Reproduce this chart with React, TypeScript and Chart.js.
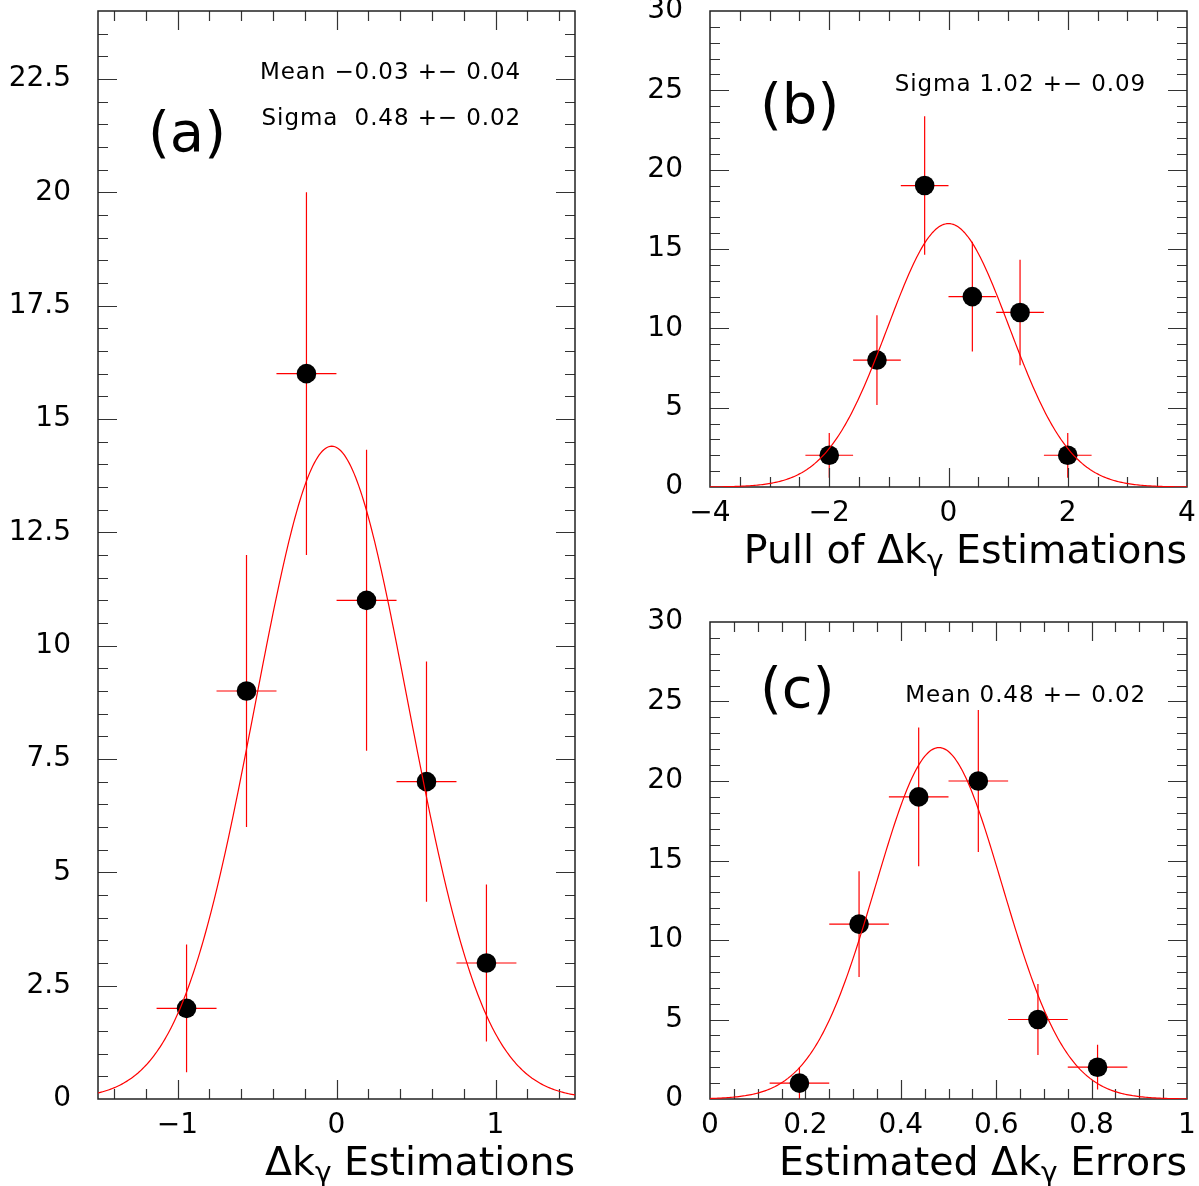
import React, { useEffect, useRef } from 'react';
import { Chart, registerables } from 'chart.js';

Chart.register(...registerables);

// ---------------- Panel (a): Δkγ Estimations ----------------
const A_BIN_CENTERS = [-0.943, -0.566, -0.189, 0.189, 0.566, 0.943];
const A_COUNTS = [2, 9, 16, 11, 7, 3];
const A_ERRORS = [1.41, 3.0, 4.0, 3.32, 2.65, 1.73];
const A_BIN_HALF_WIDTH = 0.1886;
const A_FIT_AMPLITUDE = 14.4;
const A_FIT_MEAN = -0.03;
const A_FIT_SIGMA = 0.48;
const A_X_TICKS = [-1, 0, 1];
const A_Y_TICKS = [0, 2.5, 5, 7.5, 10, 12.5, 15, 17.5, 20, 22.5];
const A_STATS = ['Mean \u22120.03 +\u2212 0.04', 'Sigma  0.48 +\u2212 0.02'];
const A_TAG = '(a)';
const A_TITLE = ['\u0394k', '\u03b3', ' Estimations'];

// ---------------- Panel (b): Pull of Δkγ Estimations ----------------
const B_BIN_CENTERS = [-2, -1.2, -0.4, 0.4, 1.2, 2];
const B_COUNTS = [2, 8, 19, 12, 11, 2];
const B_ERRORS = [1.41, 2.83, 4.36, 3.46, 3.32, 1.41];
const B_BIN_HALF_WIDTH = 0.4;
const B_FIT_AMPLITUDE = 16.6;
const B_FIT_MEAN = 0.0;
const B_FIT_SIGMA = 1.02;
const B_X_TICKS = [-4, -2, 0, 2, 4];
const B_Y_TICKS = [0, 5, 10, 15, 20, 25, 30];
const B_STATS = ['Sigma 1.02 +\u2212 0.09'];
const B_TAG = '(b)';
const B_TITLE = ['Pull of \u0394k', '\u03b3', ' Estimations'];

// ---------------- Panel (c): Estimated Δkγ Errors ----------------
const C_BIN_CENTERS = [0.1875, 0.3125, 0.4375, 0.5625, 0.6875, 0.8125];
const C_COUNTS = [1, 11, 19, 20, 5, 2];
const C_ERRORS = [1.0, 3.32, 4.36, 4.47, 2.24, 1.41];
const C_BIN_HALF_WIDTH = 0.0625;
const C_FIT_AMPLITUDE = 22.1;
const C_FIT_MEAN = 0.48;
const C_FIT_SIGMA = 0.133;
const C_X_TICKS = [0, 0.2, 0.4, 0.6, 0.8, 1];
const C_Y_TICKS = [0, 5, 10, 15, 20, 25, 30];
const C_STATS = ['Mean 0.48 +\u2212 0.02'];
const C_TAG = '(c)';
const C_TITLE = ['Estimated \u0394k', '\u03b3', ' Errors'];

const FONT = '"DejaVu Sans", sans-serif';
const RED = '#ff0000';

type PanelCfg = {
  left: number; top: number; w: number; h: number;
  area: { l: number; t: number; r: number; b: number };
  xMin: number; xMax: number; yMin: number; yMax: number;
  xTicks: number[]; yTicks: number[]; xMinor: number; yMinor: number;
  centers: number[]; counts: number[]; errors: number[]; half: number;
  fit: { amp: number; mean: number; sigma: number };
  stats: string[]; statsRight: number; statsBaselines: number[];
  tag: string; tagX: number; tagBaseline: number;
  title: string[]; titleBaseline: number;
};

const PANELS: PanelCfg[] = [
  {
    left: 0, top: 0, w: 600, h: 1186,
    area: { l: 98, t: 11, r: 575, b: 1099 },
    xMin: -1.5, xMax: 1.5, yMin: 0, yMax: 24,
    xTicks: A_X_TICKS, yTicks: A_Y_TICKS, xMinor: 0.2, yMinor: 0.5,
    centers: A_BIN_CENTERS, counts: A_COUNTS, errors: A_ERRORS, half: A_BIN_HALF_WIDTH,
    fit: { amp: A_FIT_AMPLITUDE, mean: A_FIT_MEAN, sigma: A_FIT_SIGMA },
    stats: A_STATS, statsRight: 521, statsBaselines: [79, 125],
    tag: A_TAG, tagX: 148, tagBaseline: 151,
    title: A_TITLE, titleBaseline: 1175,
  },
  {
    left: 600, top: 0, w: 599, h: 600,
    area: { l: 110, t: 11, r: 587, b: 487 },
    xMin: -4, xMax: 4, yMin: 0, yMax: 30,
    xTicks: B_X_TICKS, yTicks: B_Y_TICKS, xMinor: 0.5, yMinor: 1,
    centers: B_BIN_CENTERS, counts: B_COUNTS, errors: B_ERRORS, half: B_BIN_HALF_WIDTH,
    fit: { amp: B_FIT_AMPLITUDE, mean: B_FIT_MEAN, sigma: B_FIT_SIGMA },
    stats: B_STATS, statsRight: 546, statsBaselines: [91],
    tag: B_TAG, tagX: 160, tagBaseline: 123,
    title: B_TITLE, titleBaseline: 563,
  },
  {
    left: 600, top: 600, w: 599, h: 586,
    area: { l: 110, t: 22, r: 587, b: 499 },
    xMin: 0, xMax: 1, yMin: 0, yMax: 30,
    xTicks: C_X_TICKS, yTicks: C_Y_TICKS, xMinor: 0.05, yMinor: 1,
    centers: C_BIN_CENTERS, counts: C_COUNTS, errors: C_ERRORS, half: C_BIN_HALF_WIDTH,
    fit: { amp: C_FIT_AMPLITUDE, mean: C_FIT_MEAN, sigma: C_FIT_SIGMA },
    stats: C_STATS, statsRight: 546, statsBaselines: [102],
    tag: C_TAG, tagX: 160, tagBaseline: 107,
    title: C_TITLE, titleBaseline: 575,
  },
];

function fitCurve(cfg: PanelCfg) {
  const n = 300;
  const pts: { x: number; y: number }[] = [];
  for (let i = 0; i <= n; i++) {
    const x = cfg.xMin + ((cfg.xMax - cfg.xMin) * i) / n;
    const z = (x - cfg.fit.mean) / cfg.fit.sigma;
    pts.push({ x, y: cfg.fit.amp * Math.exp(-0.5 * z * z) });
  }
  return pts;
}

function fmt(v: number) {
  const r = Math.round(v * 1000) / 1000;
  return r < 0 ? '\u2212' + String(Math.abs(r)) : String(r);
}

function minorValues(min: number, max: number, step: number, majors: number[]) {
  const out: number[] = [];
  const k0 = Math.ceil(min / step - 1e-6);
  const k1 = Math.floor(max / step + 1e-6);
  for (let k = k0; k <= k1; k++) {
    const v = k * step;
    if (Math.abs(v - min) < 1e-6 || Math.abs(v - max) < 1e-6) continue;
    if (majors.some((m) => Math.abs(m - v) < 1e-6)) continue;
    out.push(v);
  }
  return out;
}

function makePlugin(cfg: PanelCfg) {
  return {
    id: 'pawFrame',
    beforeDatasetsDraw(chart: any) {
      const { ctx, chartArea: a, scales } = chart;
      const xs = scales.x;
      const ys = scales.y;
      ctx.save();
      // error bars
      ctx.strokeStyle = RED;
      ctx.lineWidth = 1.2;
      cfg.centers.forEach((c, i) => {
        const px = xs.getPixelForValue(c);
        const py = ys.getPixelForValue(cfg.counts[i]);
        ctx.beginPath();
        ctx.moveTo(xs.getPixelForValue(c - cfg.half), py);
        ctx.lineTo(xs.getPixelForValue(c + cfg.half), py);
        ctx.moveTo(px, ys.getPixelForValue(Math.max(cfg.yMin, cfg.counts[i] - cfg.errors[i])));
        ctx.lineTo(px, ys.getPixelForValue(cfg.counts[i] + cfg.errors[i]));
        ctx.stroke();
      });
      // ticks (inward, on all four sides)
      ctx.strokeStyle = '#333';
      ctx.lineWidth = 1.2;
      const MAJ = 19;
      const MIN = 10;
      const xMaj = cfg.xTicks.filter((v) => v > cfg.xMin + 1e-6 && v < cfg.xMax - 1e-6);
      const yMaj = cfg.yTicks.filter((v) => v > cfg.yMin + 1e-6 && v < cfg.yMax - 1e-6);
      const xMin = minorValues(cfg.xMin, cfg.xMax, cfg.xMinor, cfg.xTicks);
      const yMin = minorValues(cfg.yMin, cfg.yMax, cfg.yMinor, cfg.yTicks);
      ctx.beginPath();
      const xt = (v: number, len: number) => {
        const p = Math.round(xs.getPixelForValue(v)) + 0.5;
        ctx.moveTo(p, a.bottom);
        ctx.lineTo(p, a.bottom - len);
        ctx.moveTo(p, a.top);
        ctx.lineTo(p, a.top + len);
      };
      const yt = (v: number, len: number) => {
        const p = Math.round(ys.getPixelForValue(v)) + 0.5;
        ctx.moveTo(a.left, p);
        ctx.lineTo(a.left + len, p);
        ctx.moveTo(a.right, p);
        ctx.lineTo(a.right - len, p);
      };
      xMaj.forEach((v) => xt(v, MAJ));
      xMin.forEach((v) => xt(v, MIN));
      yMaj.forEach((v) => yt(v, MAJ));
      yMin.forEach((v) => yt(v, MIN));
      ctx.stroke();
      // frame
      ctx.strokeStyle = '#222';
      ctx.lineWidth = 1.5;
      ctx.strokeRect(a.left, a.top, a.right - a.left, a.bottom - a.top);
      ctx.restore();
    },
    afterDraw(chart: any) {
      const { ctx, chartArea: a } = chart;
      ctx.save();
      ctx.fillStyle = '#000';
      // stats box text
      ctx.font = `23px ${FONT}`;
      try { (ctx as any).letterSpacing = '0.9px'; } catch (e) { /* ignore */ }
      ctx.textAlign = 'right';
      ctx.textBaseline = 'alphabetic';
      cfg.stats.forEach((s, i) => ctx.fillText(s, cfg.statsRight, cfg.statsBaselines[i]));
      try { (ctx as any).letterSpacing = '0px'; } catch (e) { /* ignore */ }
      // panel tag
      ctx.textAlign = 'left';
      ctx.font = `56px ${FONT}`;
      ctx.fillText(cfg.tag, cfg.tagX, cfg.tagBaseline);
      // axis title with subscript gamma, right aligned to frame
      const big = `39.5px ${FONT}`;
      const small = `28px ${FONT}`;
      ctx.font = big;
      const w1 = ctx.measureText(cfg.title[0]).width;
      const w3 = ctx.measureText(cfg.title[2]).width;
      ctx.font = small;
      const w2 = ctx.measureText(cfg.title[1]).width;
      let x = a.right - (w1 + w2 + w3);
      ctx.font = big;
      ctx.fillText(cfg.title[0], x, cfg.titleBaseline);
      x += w1;
      ctx.font = small;
      ctx.fillText(cfg.title[1], x, cfg.titleBaseline + 7);
      x += w2;
      ctx.font = big;
      ctx.fillText(cfg.title[2], x, cfg.titleBaseline);
      ctx.restore();
    },
  };
}

function Panel({ cfg }: { cfg: PanelCfg }) {
  const ref = useRef<HTMLCanvasElement>(null);
  useEffect(() => {
    const canvas = ref.current;
    if (!canvas) return;
    const points = cfg.centers.map((c, i) => ({ x: c, y: cfg.counts[i] }));
    const chart = new Chart(canvas, {
      type: 'scatter',
      data: {
        datasets: [
          {
            data: fitCurve(cfg),
            showLine: true,
            pointRadius: 0,
            borderColor: RED,
            borderWidth: 1.2,
            fill: false,
            tension: 0,
          } as any,
          {
            data: points,
            showLine: false,
            pointRadius: 9.8,
            pointBackgroundColor: '#000',
            pointBorderColor: '#000',
            pointBorderWidth: 0,
          } as any,
        ],
      },
      options: {
        animation: false,
        responsive: false,
        maintainAspectRatio: false,
        events: [],
        layout: {
          padding: { left: 0, top: cfg.area.t, right: cfg.w - cfg.area.r, bottom: 0 },
        },
        plugins: { legend: { display: false }, tooltip: { enabled: false }, title: { display: false } },
        scales: {
          x: {
            type: 'linear',
            min: cfg.xMin,
            max: cfg.xMax,
            afterBuildTicks: (s: any) => { s.ticks = cfg.xTicks.map((v) => ({ value: v })); },
            afterFit: (s: any) => {
              s.height = cfg.h - cfg.area.b;
              s.paddingLeft = 0; s.paddingRight = 0; s.paddingTop = 0; s.paddingBottom = 0;
            },
            ticks: {
              callback: (v: any) => fmt(Number(v)),
              font: { family: FONT, size: 28 },
              color: '#000',
              padding: 10,
              maxRotation: 0,
              autoSkip: false,
            },
            grid: { display: false, drawTicks: false },
            border: { display: false },
          },
          y: {
            type: 'linear',
            min: cfg.yMin,
            max: cfg.yMax,
            afterBuildTicks: (s: any) => { s.ticks = cfg.yTicks.map((v) => ({ value: v })); },
            afterFit: (s: any) => {
              s.width = cfg.area.l;
              s.paddingLeft = 0; s.paddingRight = 0; s.paddingTop = 0; s.paddingBottom = 0;
            },
            ticks: {
              callback: (v: any) => fmt(Number(v)),
              font: { family: FONT, size: 28 },
              color: '#000',
              padding: 27,
              autoSkip: false,
            },
            grid: { display: false, drawTicks: false },
            border: { display: false },
          },
        },
      } as any,
      plugins: [makePlugin(cfg)],
    });
    return () => chart.destroy();
  }, [cfg]);
  return (
    <canvas
      ref={ref}
      width={cfg.w}
      height={cfg.h}
      style={{ position: 'absolute', left: cfg.left, top: cfg.top, width: cfg.w, height: cfg.h }}
    />
  );
}

export default function App() {
  return (
    <div style={{ position: 'absolute', left: 0, top: 0, width: 1199, height: 1186, background: '#fff', overflow: 'hidden' }}>
      {PANELS.map((p, i) => (
        <Panel key={i} cfg={p} />
      ))}
    </div>
  );
}
